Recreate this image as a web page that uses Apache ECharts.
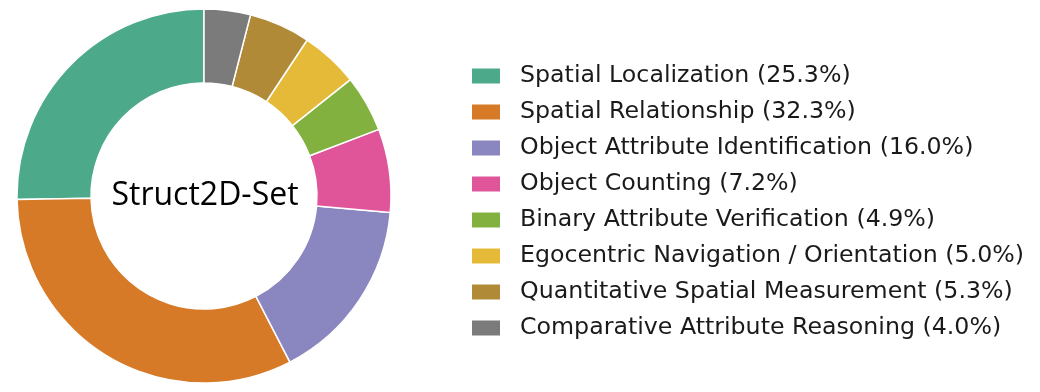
<!DOCTYPE html>
<html><head><meta charset="utf-8">
<script src="https://cdn.jsdelivr.net/npm/echarts@6/dist/echarts.min.js"></script>
<style>html,body{margin:0;padding:0;background:#fff}#c{width:1040px;height:392px}</style>
</head><body><div id="c"></div>
<script>
const categories = ["Spatial Localization","Spatial Relationship","Object Attribute Identification","Object Counting","Binary Attribute Verification","Egocentric Navigation / Orientation","Quantitative Spatial Measurement","Comparative Attribute Reasoning"];
const values = [25.3, 32.3, 16.0, 7.2, 4.9, 5.0, 5.3, 4.0];
const colors = ["#4caa8b","#d77a27","#8a86bf","#e0559a","#83b13f","#e5ba38","#b08a37","#7b7b7b"];
const centerTitle = "Struct2D-Set";
const chart = echarts.init(document.getElementById('c'), null, {renderer:'canvas'});
chart.setOption({
  animation:false,
  color: colors,
  title:{text:centerTitle,left:205,top:196,textAlign:'center',textVerticalAlign:'middle',padding:0,
    textStyle:{fontFamily:'"Open Sans"',fontWeight:'normal',fontSize:32,color:'#000'}},
  legend:{orient:'vertical',left:470,top:64,padding:0,itemWidth:30,itemHeight:17,itemGap:12,
    icon:'rect',
    formatter:function(n){const i=categories.indexOf(n);return n+' ('+values[i].toFixed(1)+'%)';},
    textStyle:{fontFamily:'"DejaVu Sans"',fontSize:23.7,color:'#1a1a1a',padding:[0,0,0,14],lineHeight:24}},
  series:[{type:'pie',center:[204,196],radius:[113,187],startAngle:90,clockwise:false,
    label:{show:false},labelLine:{show:false},emphasis:{disabled:true},
    itemStyle:{borderColor:'#fff',borderWidth:1.5},
    data:categories.map((c,i)=>({name:c,value:values[i]}))}]
});
</script></body></html>
